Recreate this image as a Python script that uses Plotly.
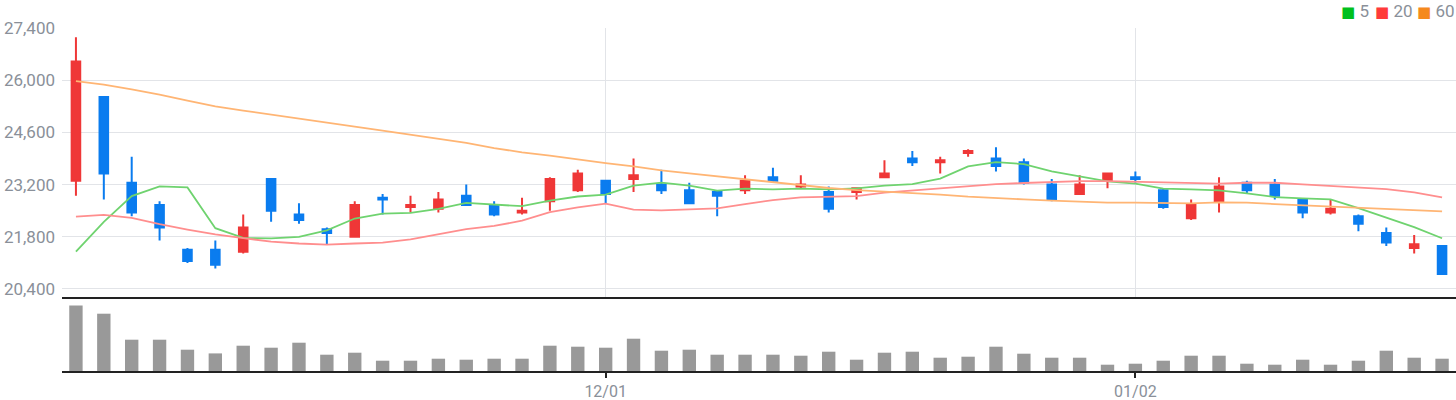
import plotly.graph_objects as go

# ---------------- data ----------------
dates = [
    "2023-11-06", "2023-11-07", "2023-11-08", "2023-11-09", "2023-11-10",
    "2023-11-13", "2023-11-14", "2023-11-15", "2023-11-16", "2023-11-17",
    "2023-11-20", "2023-11-21", "2023-11-22", "2023-11-23", "2023-11-24",
    "2023-11-27", "2023-11-28", "2023-11-29", "2023-11-30",
    "2023-12-01", "2023-12-04", "2023-12-05", "2023-12-06", "2023-12-07",
    "2023-12-08", "2023-12-11", "2023-12-12", "2023-12-13", "2023-12-14",
    "2023-12-15", "2023-12-18", "2023-12-19", "2023-12-20", "2023-12-21",
    "2023-12-22", "2023-12-26", "2023-12-27", "2023-12-28",
    "2024-01-02", "2024-01-03", "2024-01-04", "2024-01-05", "2024-01-08",
    "2024-01-09", "2024-01-10", "2024-01-11", "2024-01-12", "2024-01-15",
    "2024-01-16", "2024-01-17",
]

opens = [23300, 25550, 23250, 22650, 21450, 21450, 21400, 23350, 22400, 22000,
         21800, 22850, 22600, 22550, 22900, 22650, 22450, 22750, 23050, 23300,
         23350, 23200, 23050, 23000, 23050, 23400, 23150, 23000, 23000, 23400,
         23900, 23800, 24050, 23900, 23800, 23200, 22950, 23300, 23400, 23050,
         22300, 22750, 23250, 23200, 22800, 22450, 22350, 21900, 21500, 21550]
highs = [27150, 25550, 23950, 22750, 21500, 21700, 22400, 23350, 22700, 22050,
         22750, 22950, 22900, 23000, 23200, 22750, 22850, 23400, 23600, 23300,
         23900, 23600, 23250, 23050, 23450, 23650, 23450, 23150, 23100, 23850,
         24100, 23950, 24150, 24200, 23900, 23350, 23450, 23500, 23550, 23100,
         22800, 23400, 23300, 23350, 22800, 22800, 22400, 22050, 21850, 21550]
lows = [22900, 22800, 22350, 21700, 21100, 20950, 21350, 22200, 22150, 21600,
        21800, 22400, 22450, 22450, 22650, 22350, 22400, 22500, 23000, 22700,
        23000, 22950, 22700, 22350, 22950, 23250, 23100, 22450, 22800, 23400,
        23700, 23500, 23950, 23550, 23200, 22750, 22950, 23100, 23250, 22550,
        22250, 22450, 22950, 22800, 22300, 22400, 21950, 21550, 21350, 20800]
closes = [26500, 23500, 22450, 22050, 21150, 21050, 22050, 22500, 22250, 21900,
          22650, 22800, 22650, 22800, 22650, 22400, 22500, 23350, 23500, 22950,
          23450, 23050, 22700, 22900, 23300, 23300, 23200, 22550, 23100, 23500,
          23800, 23850, 24100, 23700, 23250, 22800, 23200, 23500, 23350, 22600,
          22650, 23150, 23050, 22900, 22450, 22550, 22150, 21650, 21600, 20800]

volumes = [656000, 573000, 313000, 313000, 213000, 176000, 253000, 233000, 283000, 163000,
           183000, 103000, 103000, 123000, 113000, 123000, 123000, 253000, 243000, 233000,
           323000, 203000, 213000, 163000, 163000, 163000, 153000, 193000, 113000, 183000,
           193000, 133000, 143000, 243000, 173000, 133000, 133000, 63000, 73000, 103000,
           153000, 153000, 73000, 63000, 113000, 63000, 103000, 203000, 133000, 123000]

ma5 = [21400, 22200, 22890, 23150, 23125, 22030, 21770, 21760, 21800, 21970,
       22290, 22420, 22440, 22550, 22710, 22670, 22620, 22770, 22880, 22930,
       23170, 23250, 23170, 23040, 23090, 23070, 23090, 23070, 23100, 23170,
       23215, 23360, 23690, 23800, 23750, 23555, 23420, 23285, 23225, 23090,
       23070, 23045, 22965, 22865, 22830, 22805, 22570, 22320, 22060, 21760]
ma20 = [22340, 22390, 22310, 22140, 21995, 21865, 21762, 21672, 21620, 21592,
        21620, 21641, 21730, 21865, 22005, 22090, 22231, 22464, 22589, 22687,
        22526, 22508, 22535, 22562, 22678, 22786, 22857, 22866, 22893, 22982,
        23045, 23108, 23170, 23215, 23242, 23268, 23295, 23295, 23277, 23260,
        23224, 23224, 23250, 23250, 23206, 23161, 23116, 23081, 22991, 22857]
ma60 = [25978, 25883, 25755, 25615, 25450, 25297, 25186, 25083, 24976, 24873,
        24757, 24645, 24538, 24427, 24318, 24180, 24064, 23975, 23867, 23778,
        23689, 23581, 23501, 23420, 23340, 23250, 23179, 23108, 23054, 23018,
        22973, 22929, 22875, 22848, 22804, 22768, 22741, 22714, 22714, 22714,
        22696, 22723, 22714, 22678, 22643, 22607, 22571, 22544, 22508, 22482]

ma_names = ["5", "20", "60"]
price_ticks = [20400, 21800, 23200, 24600, 26000, 27400]
date_tick_vals = ["2023-12-01", "2024-01-02"]
date_tick_text = ["12/01", "01/02"]

# ---------------- styles ----------------
W, H = 1456, 400
UP = "#ef3737"
DOWN = "#0a7cef"
MA_LINE_COLORS = ["#6fd36f", "#ff8e8e", "#ffb574"]
MA_LEGEND_COLORS = ["#00c01d", "#ff3a3a", "#f5891e"]
LEGEND_LEFT_PX = [1301, 1335, 1377]   # left edge of each legend entry box
LEGEND_CENTER_Y_PX = 11
GRID = "#e2e4e8"
AXIS_DARK = "#222222"
LABEL = "#8a9099"

fig = go.Figure()

fig.add_trace(go.Candlestick(
    x=dates, open=opens, high=highs, low=lows, close=closes,
    increasing=dict(line=dict(color=UP, width=2), fillcolor=UP),
    decreasing=dict(line=dict(color=DOWN, width=2), fillcolor=DOWN),
    whiskerwidth=0, showlegend=False, hoverinfo="skip",
    xaxis="x", yaxis="y",
))

for series, color in zip([ma5, ma20, ma60], MA_LINE_COLORS):
    fig.add_trace(go.Scatter(
        x=dates, y=series, mode="lines",
        line=dict(color=color, width=1.8),
        showlegend=False, hoverinfo="skip", xaxis="x", yaxis="y",
    ))

legend_ids = ["legend", "legend2", "legend3"]
for name, color, lid in zip(ma_names, MA_LEGEND_COLORS, legend_ids):
    label = (f'<span style="color:{color};font-size:15px;font-family:DejaVu Sans">'
             f'\u25A0</span> {name}')
    fig.add_trace(go.Scatter(
        x=[None], y=[None], mode="markers", name=label, legend=lid,
        marker=dict(symbol="square", size=11, color="rgba(0,0,0,0)"),
        xaxis="x", yaxis="y",
    ))

fig.add_trace(go.Bar(
    x=dates, y=volumes, marker=dict(color="#999999", line=dict(width=0)),
    showlegend=False, hoverinfo="skip", xaxis="x2", yaxis="y2",
))

VOL_FRAC = 74 / 343


def legend_box(left_px):
    return dict(
        orientation="h", xref="container", yref="container",
        x=left_px / W, xanchor="left",
        y=1 - LEGEND_CENTER_Y_PX / H, yanchor="middle",
        font=dict(size=17, color=LABEL), bgcolor="rgba(0,0,0,0)",
        borderwidth=0,
    )


fig.update_layout(
    width=W, height=H,
    margin=dict(l=62, r=0, t=28, b=29, autoexpand=False),
    paper_bgcolor="white", plot_bgcolor="white",
    boxgap=0.56, bargap=0.52,
    font=dict(family="Roboto, 'Noto Sans', sans-serif", color=LABEL),
    showlegend=True,
    legend=legend_box(LEGEND_LEFT_PX[0]),
    legend2=legend_box(LEGEND_LEFT_PX[1]),
    legend3=legend_box(LEGEND_LEFT_PX[2]),
    xaxis=dict(
        type="category", categoryorder="array", categoryarray=dates,
        range=[-0.5, len(dates) - 0.5], anchor="y",
        tickmode="array", tickvals=date_tick_vals, ticktext=date_tick_text,
        showticklabels=False, ticks="", showgrid=True, gridcolor=GRID, gridwidth=1,
        showline=True, linecolor=AXIS_DARK, linewidth=2,
        rangeslider=dict(visible=False), zeroline=False,
    ),
    yaxis=dict(
        domain=[VOL_FRAC, 1], range=[20185, 27400],
        tickmode="array", tickvals=price_ticks, tickformat=",",
        showgrid=True, gridcolor=GRID, gridwidth=1, zeroline=False,
        ticks="", ticklabelstandoff=6,
        tickfont=dict(size=17, color=LABEL),
    ),
    xaxis2=dict(
        type="category", categoryorder="array", categoryarray=dates,
        range=[-0.5, len(dates) - 0.5], anchor="y2",
        tickmode="array", tickvals=date_tick_vals, ticktext=date_tick_text,
        ticks="outside", ticklen=5, tickwidth=1.5, tickcolor=AXIS_DARK,
        showgrid=False, zeroline=False,
        showline=True, linecolor=AXIS_DARK, linewidth=2,
        tickfont=dict(size=16, color=LABEL),
    ),
    yaxis2=dict(
        domain=[0, VOL_FRAC], range=[0, 740000],
        showgrid=False, showticklabels=False, zeroline=False, ticks="",
    ),
)

fig.write_html(
    "out.html",
    config={"displayModeBar": False},
    post_script="document.body.style.margin='0px';",
)
